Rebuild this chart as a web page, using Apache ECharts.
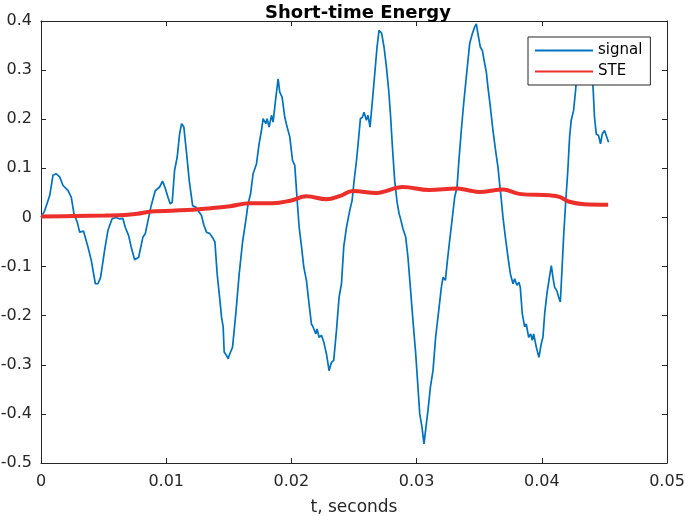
<!DOCTYPE html>
<html>
<head>
<meta charset="utf-8">
<script src="https://cdn.jsdelivr.net/npm/echarts@6/dist/echarts.min.js"></script>
<style>html,body{margin:0;padding:0;background:#fff;}#c{width:685px;height:516px;}</style>
</head>
<body>
<div id="c"></div>
<script>
// time (s) and amplitude of the signal
const sigT = [0.0000,0.0003,0.0007,0.00096,0.00122,0.0015,0.00176,0.00215,0.00242,0.00263,0.0029,0.00309,0.0034,0.00375,0.00402,0.00434,0.00455,0.00476,0.00508,0.00535,0.00567,0.0060,0.00628,0.00654,0.00673,0.0070,0.0072,0.00748,0.0078,0.00814,0.00833,0.0086,0.0088,0.00912,0.00947,0.00971,0.00992,0.01014,0.01032,0.01048,0.01067,0.01088,0.01107,0.01123,0.01141,0.01163,0.01184,0.01211,0.01237,0.01263,0.01282,0.01301,0.01322,0.01349,0.01375,0.01389,0.01407,0.01429,0.01442,0.01455,0.01463,0.01482,0.01495,0.01503,0.0153,0.01556,0.01583,0.0161,0.01636,0.01654,0.01674,0.01694,0.01721,0.01742,0.01761,0.01774,0.01796,0.01806,0.01822,0.01841,0.01854,0.01873,0.01894,0.01907,0.01926,0.01947,0.01966,0.01987,0.02009,0.02027,0.02046,0.02062,0.02081,0.02099,0.0212,0.02141,0.0216,0.02173,0.02195,0.02205,0.02221,0.0224,0.02259,0.0228,0.02301,0.0232,0.02338,0.0236,0.02381,0.024,0.02418,0.0244,0.02466,0.02485,0.02501,0.0252,0.02533,0.02551,0.02567,0.0258,0.02599,0.02612,0.02628,0.02647,0.02666,0.02684,0.027,0.02721,0.0274,0.02759,0.02777,0.02791,0.02807,0.02825,0.02844,0.0286,0.02875,0.02891,0.02913,0.02931,0.0295,0.02971,0.02993,0.03011,0.03025,0.03043,0.03059,0.03078,0.03091,0.0311,0.03131,0.03152,0.03174,0.03198,0.03211,0.0323,0.03246,0.03264,0.03283,0.03304,0.03323,0.03338,0.03357,0.03376,0.03397,0.03424,0.03445,0.03464,0.03477,0.0349,0.03509,0.03525,0.03544,0.03557,0.0357,0.03589,0.0361,0.03631,0.0365,0.03663,0.03677,0.0369,0.03709,0.0373,0.03749,0.0377,0.03783,0.03801,0.03817,0.03828,0.03844,0.03863,0.03876,0.03895,0.03911,0.03924,0.03935,0.03956,0.03977,0.03996,0.04009,0.04023,0.04041,0.04057,0.04076,0.04089,0.04102,0.0412,0.04134,0.04148,0.04161,0.04174,0.0419,0.04208,0.04222,0.04235,0.04254,0.0427,0.0428,0.0431,0.0434,0.0437,0.0439,0.04408,0.04421,0.04435,0.04453,0.04469,0.04483,0.04501,0.04515,0.04533];
const sigV = [0.000,0.014,0.045,0.086,0.089,0.082,0.065,0.055,0.041,0.008,-0.010,-0.030,-0.028,-0.060,-0.088,-0.135,-0.135,-0.122,-0.067,-0.026,-0.003,0.000,-0.003,-0.002,-0.020,-0.037,-0.060,-0.086,-0.081,-0.040,-0.033,0.000,0.024,0.054,0.062,0.074,0.060,0.041,0.028,0.031,0.096,0.123,0.170,0.191,0.184,0.130,0.075,0.024,0.021,0.011,0.004,-0.016,-0.030,-0.033,-0.043,-0.050,-0.115,-0.169,-0.203,-0.223,-0.274,-0.281,-0.288,-0.281,-0.264,-0.196,-0.115,-0.050,-0.006,0.028,0.048,0.089,0.109,0.150,0.177,0.201,0.191,0.201,0.184,0.208,0.194,0.238,0.282,0.255,0.245,0.204,0.184,0.164,0.116,0.106,0.035,-0.020,-0.060,-0.101,-0.128,-0.176,-0.217,-0.223,-0.237,-0.227,-0.244,-0.240,-0.254,-0.278,-0.312,-0.295,-0.291,-0.230,-0.162,-0.135,-0.060,-0.020,0.014,0.035,0.075,0.116,0.150,0.201,0.204,0.214,0.198,0.208,0.184,0.238,0.293,0.347,0.381,0.375,0.347,0.306,0.259,0.211,0.143,0.075,0.031,0.008,-0.006,-0.023,-0.040,-0.081,-0.142,-0.210,-0.278,-0.346,-0.400,-0.427,-0.461,-0.420,-0.393,-0.346,-0.312,-0.244,-0.196,-0.142,-0.122,-0.128,-0.088,-0.047,-0.006,0.041,0.062,0.116,0.177,0.232,0.286,0.354,0.374,0.388,0.394,0.374,0.347,0.340,0.313,0.296,0.265,0.225,0.177,0.136,0.102,0.069,0.035,0.000,-0.040,-0.081,-0.115,-0.135,-0.125,-0.138,-0.132,-0.142,-0.196,-0.223,-0.217,-0.244,-0.237,-0.250,-0.237,-0.264,-0.285,-0.257,-0.244,-0.196,-0.155,-0.128,-0.098,-0.122,-0.142,-0.149,-0.162,-0.172,-0.108,-0.040,0.028,0.096,0.164,0.198,0.218,0.259,0.293,0.330,0.355,0.340,0.300,0.272,0.204,0.170,0.167,0.150,0.170,0.177,0.179,0.153];

// short-time energy curve
const steT = [0.0000,0.0027,0.0051,0.0067,0.0077,0.0088,0.0117,0.0137,0.0151,0.0167,0.0185,0.0199,0.0212,0.0228,0.0239,0.0249,0.0268,0.0289,0.0310,0.0332,0.0342,0.0350,0.0369,0.0382,0.0406,0.0414,0.0422,0.0434,0.0453];
const steV = [0.002,0.003,0.004,0.005,0.0075,0.012,0.015,0.019,0.023,0.029,0.029,0.034,0.043,0.037,0.044,0.054,0.050,0.062,0.056,0.059,0.055,0.052,0.057,0.048,0.045,0.042,0.032,0.027,0.026];

const xTicks = {min: 0, max: 0.05, interval: 0.01};
const yTicks = {min: -0.5, max: 0.4, interval: 0.1};

const chart = echarts.init(document.getElementById('c'), null, {renderer: 'canvas'});
const axisCol = '#262626';
const font = 'DejaVu Sans, Verdana, sans-serif';
const fmt = v => {
  const r = Math.round(v * 1000) / 1000;
  return r === 0 ? '0' : String(r);
};
function axisBase(extra) {
  return Object.assign({
    type: 'value',
    axisLine: {show: true, onZero: false, lineStyle: {color: axisCol, width: 1}},
    axisTick: {show: true, inside: true, length: 5, lineStyle: {color: axisCol}},
    splitLine: {show: false}
  }, extra);
}
chart.setOption({
  animation: false,
  backgroundColor: '#fff',
  title: {
    text: 'Short-time Energy', left: 353, textAlign: 'center', top: -1,
    textStyle: {fontFamily: font, fontWeight: 'bold', fontSize: 18, color: '#000'}
  },
  legend: {
    orient: 'vertical', left: 528, top: 37,
    padding: [6, 8, 6, 6], itemWidth: 58, itemHeight: 14, itemGap: 6,
    backgroundColor: '#fff', borderColor: axisCol, borderWidth: 1,
    itemStyle: {opacity: 0},
    textStyle: {fontFamily: font, fontSize: 15, color: '#000'},
    data: ['signal', 'STE']
  },
  grid: {left: 41, right: 18, top: 21, bottom: 53, containLabel: false, outerBoundsMode: 'none'},
  xAxis: [
    axisBase(Object.assign({
      position: 'bottom',
      name: 't, seconds', nameLocation: 'middle', nameGap: 36,
      nameTextStyle: {fontFamily: font, fontSize: 17, color: axisCol},
      axisLabel: {fontFamily: font, fontSize: 16, color: axisCol, margin: 11, formatter: fmt}
    }, xTicks)),
    axisBase(Object.assign({position: 'top', axisLabel: {show: false}}, xTicks))
  ],
  yAxis: [
    axisBase(Object.assign({
      position: 'left',
      axisLabel: {fontFamily: font, fontSize: 16, color: axisCol, margin: 9, formatter: fmt}
    }, yTicks)),
    axisBase(Object.assign({position: 'right', axisLabel: {show: false}}, yTicks))
  ],
  series: [
    {
      name: 'signal', type: 'line', symbol: 'none', showSymbol: false,
      xAxisIndex: 0, yAxisIndex: 0,
      lineStyle: {color: '#0072BD', width: 1.7}, itemStyle: {color: '#0072BD'},
      data: sigT.map((t, i) => [t, sigV[i]]), z: 2
    },
    {
      name: 'STE', type: 'line', symbol: 'none', showSymbol: false, smooth: 0.4,
      xAxisIndex: 0, yAxisIndex: 0,
      lineStyle: {color: '#EC2F2B', width: 4}, itemStyle: {color: '#EC2F2B'},
      data: steT.map((t, i) => [t, steV[i]]), z: 3
    }
  ]
});
</script>
</body>
</html>
